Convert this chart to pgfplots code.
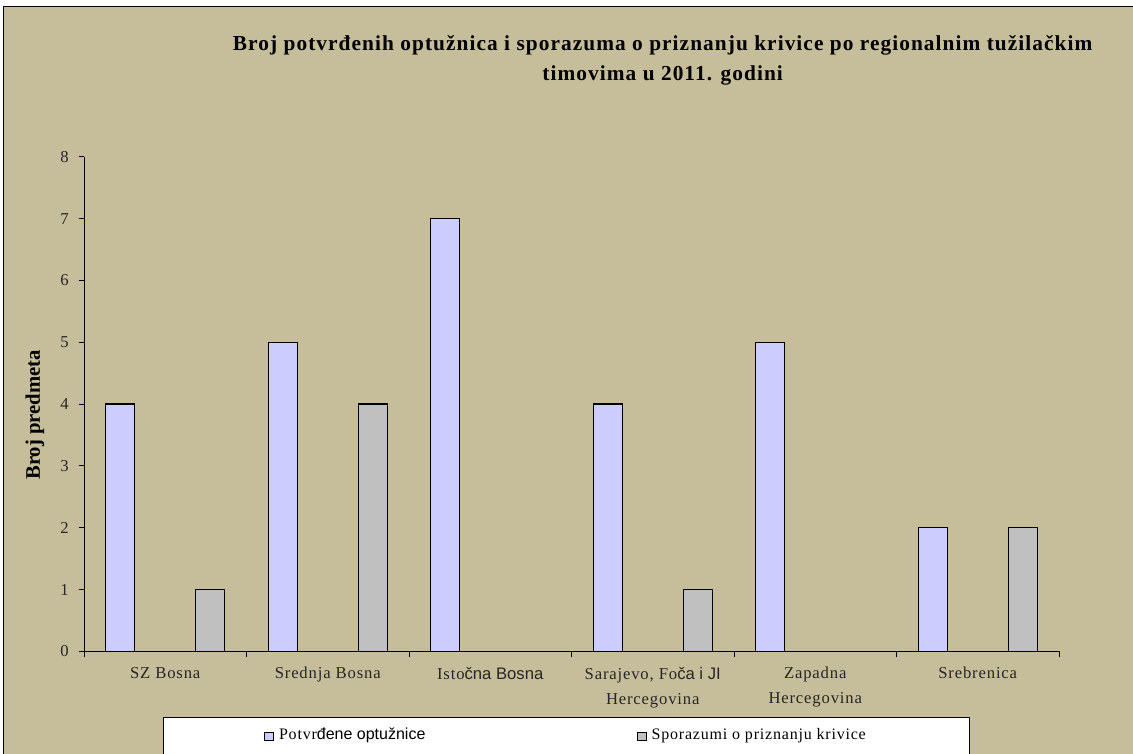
\documentclass[border=0pt]{standalone}
\usepackage{fontspec}
\setmainfont{Liberation Serif}
\setsansfont{Liberation Sans}
\newfontfamily\titlefont[LetterSpace=5]{Liberation Serif}
\newfontfamily\catfont[LetterSpace=5]{Liberation Serif}
\usepackage{pgfplots}
\pgfplotsset{compat=1.18}
\definecolor{bgtan}{RGB}{198,190,154}
\definecolor{lav}{RGB}{204,204,255}
\definecolor{gr}{RGB}{192,192,192}
\begin{document}
\begin{tikzpicture}[x=1pt,y=1pt]
\path[use as bounding box, clip] (0,0) rectangle (849.75,565.5);
\fill[white] (0,0) rectangle (849.75,565.5);
\fill[bgtan] (2.6,0) rectangle (849.75,560.5);
\draw[black, line width=1pt] (2.6,-2) -- (2.6,560.5) -- (852,560.5);
\node[font=\titlefont\bfseries\fontsize{16}{22.5}\selectfont, align=center] at (497,520.5) {Broj potvrđenih optužnica i sporazuma o priznanju krivice po regionalnim tužilačkim\\timovima u 2011. godini};
\begin{axis}[
  at={(123.9375pt,77pt)}, anchor=origin,
  width=731.25pt, height=370.95pt, scale only axis,
  xmin=-0.5, xmax=5.5, ymin=0, ymax=8,
  axis x line*=bottom, axis y line*=left,
  axis line style={black, line width=0.75pt, -},
  ybar,
  ytick={0,...,8},
  tick align=outside,
  major tick length=4pt,
  minor tick length=4.5pt,
  tick style={black, line width=0.75pt},
  xtick={0,...,5},
  major x tick style={draw=none},
  minor xtick={-0.5,0.5,...,5.5},
  xticklabels={SZ Bosna, Srednja Bosna, Isto{\sffamily čna Bosna}, {Sarajevo, Fo{\sffamily ča i JI}\\Hercegovina}, Zapadna\\Hercegovina, Srebrenica},
  xticklabel style={font=\catfont\fontsize{12.5}{18.75}\selectfont, align=center, yshift=-4.5pt, text=black!85},
  yticklabel style={font=\fontsize{12.5}{14}\selectfont, xshift=-4pt, text=black!85},
  /pgf/number format/assume math mode=true,
  ylabel={Broj predmeta},
  ylabel style={font=\bfseries\fontsize{15.5}{17}\selectfont, at={(axis description cs:-0.0503,0.478)}, anchor=center},
  legend style={at={(0.0810,-0.1328)}, anchor=north west, draw=black, line width=0.75pt, fill=white,
    inner xsep=75.75pt, inner ysep=7.8pt, font=\catfont\fontsize{12}{14}\selectfont,
    nodes={inner sep=0pt, text height=9pt, text depth=30pt},
    /tikz/every odd column/.append style={column sep=3.75pt},
    /tikz/every even column/.append style={column sep=4.5pt}},
  legend columns=2,
  legend image code/.code={\draw[#1, draw=black, line width=0.7pt] (0pt,9.9pt) rectangle (6.5pt,16.4pt);},
]
\addplot[fill=lav, draw=black, line width=1pt, bar width=21.75pt, bar shift=-33.75pt] coordinates {(0,4) (1,5) (2,7) (3,4) (4,5) (5,2)};
\addlegendentry{\makebox[264pt][l]{Potvr{\sffamily đene optužnice}}}
\addplot[fill=gr, draw=black, line width=1pt, bar width=21.75pt, bar shift=33.75pt] coordinates {(0,1) (1,4) (3,1) (5,2)};
\addlegendentry{\makebox[162.75pt][l]{Sporazumi o priznanju krivice}}
\end{axis}
\end{tikzpicture}
\end{document}
